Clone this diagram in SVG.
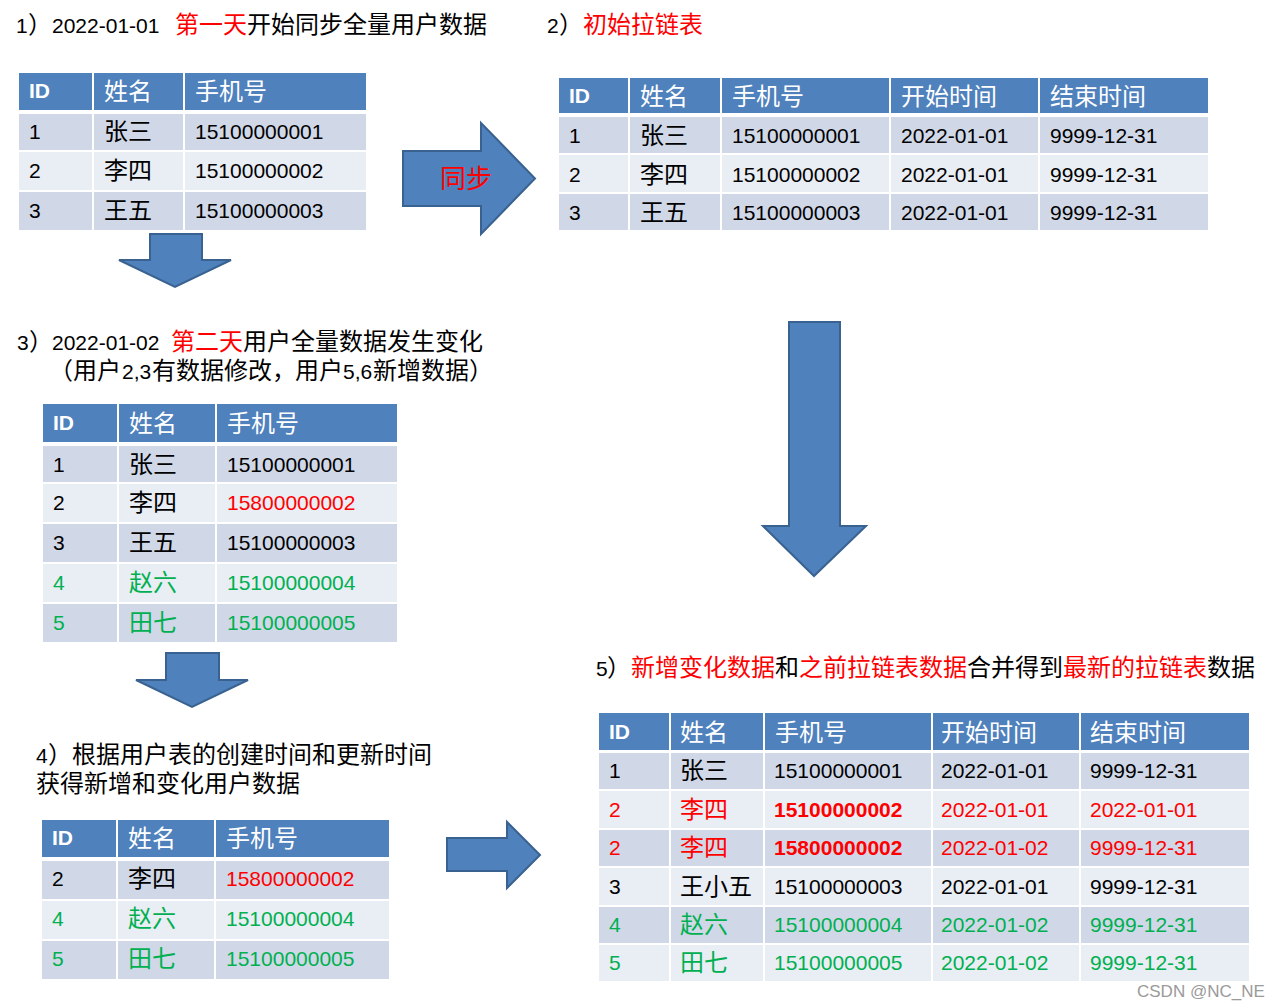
<svg xmlns="http://www.w3.org/2000/svg" width="1282" height="1008" viewBox="0 0 1282 1008">
<style>
.hd{fill:#4F81BD}
.ra{fill:#D0D8E8}
.rb{fill:#E9EDF4}
.vl{fill:#fff}
.t{font-family:"Liberation Sans","Noto Sans CJK SC",sans-serif;font-size:21px;fill:#000}
.c{font-family:"Noto Sans CJK SC",sans-serif;font-size:24px;fill:#000}
.th{font-family:"Liberation Sans","Noto Sans CJK SC",sans-serif;font-size:21px;font-weight:bold;fill:#fff}
.thc{font-family:"Noto Sans CJK SC",sans-serif;font-size:24px;fill:#fff}
.red{fill:#FF0000}
.grn{fill:#00B050}
.b{font-weight:bold}
.arr{fill:#4F81BD;stroke:#3A6290;stroke-width:2;stroke-linejoin:miter}
.wm{font-family:"Liberation Sans",sans-serif;font-size:17px;fill:#9a9a9a}
</style>
<rect width="1282" height="1008" fill="#fff"/>

<!-- Titles -->
<g id="title1">
<text class="t" x="16" y="33">1</text><text class="c" x="28" y="33">）</text><text class="t" x="52" y="33">2022-01-01</text>
<text class="c" x="175" y="33"><tspan class="red">第一天</tspan>开始同步全量用户数据</text>
</g>
<g id="title2">
<text class="t" x="547" y="33">2</text><text class="c" x="559" y="33">）<tspan class="red">初始拉链表</tspan></text>
</g>
<g id="title3">
<text class="t" x="17" y="350">3</text><text class="c" x="29" y="350">）</text><text class="t" x="52" y="350">2022-01-02</text>
<text class="c" x="171" y="350"><tspan class="red">第二天</tspan>用户全量数据发生变化</text>
<text class="c" x="49" y="379">（用户</text><text class="t" x="122" y="379">2,3</text><text class="c" x="152" y="379">有数据修改，</text>
<text class="c" x="295" y="379">用户</text><text class="t" x="343" y="379">5,6</text><text class="c" x="373" y="379">新增数据）</text>
</g>
<g id="title4">
<text class="t" x="36" y="763">4</text><text class="c" x="48" y="763">）根据用户表的创建时间和更新时间</text>
<text class="c" x="36" y="792">获得新增和变化用户数据</text>
</g>
<g id="title5">
<text class="t" x="596" y="676">5</text><text class="c" x="607" y="676">）<tspan class="red">新增变化数据</tspan>和<tspan class="red">之前拉链表数据</tspan>合并得到<tspan class="red">最新的拉链表</tspan>数据</text>
</g>

<!-- Table 1 -->
<g id="table1">
<rect class="hd" x="19" y="73" width="347" height="37"/>
<rect class="ra" x="19" y="114" width="347" height="36"/>
<rect class="rb" x="19" y="152" width="347" height="38"/>
<rect class="ra" x="19" y="192" width="347" height="38"/>
<rect class="vl" x="92" y="73" width="2" height="157"/>
<rect class="vl" x="183" y="73" width="2" height="157"/>
<text class="th" x="29" y="98">ID</text><text class="thc" x="104" y="100">姓名</text><text class="thc" x="195" y="100">手机号</text>
<text class="t" x="29" y="139">1</text><text class="c" x="104" y="140">张三</text><text class="t" x="195" y="139">15100000001</text>
<text class="t" x="29" y="178">2</text><text class="c" x="104" y="179">李四</text><text class="t" x="195" y="178">15100000002</text>
<text class="t" x="29" y="218">3</text><text class="c" x="104" y="219">王五</text><text class="t" x="195" y="218">15100000003</text>
</g>

<!-- Table 2 -->
<g id="table2">
<rect class="hd" x="559" y="78" width="649" height="35"/>
<rect class="ra" x="559" y="117" width="649" height="36"/>
<rect class="rb" x="559" y="155" width="649" height="37"/>
<rect class="ra" x="559" y="194" width="649" height="36"/>
<rect class="vl" x="628" y="78" width="2" height="152"/>
<rect class="vl" x="720" y="78" width="2" height="152"/>
<rect class="vl" x="889" y="78" width="2" height="152"/>
<rect class="vl" x="1038" y="78" width="2" height="152"/>
<text class="th" x="569" y="103">ID</text><text class="thc" x="640" y="105">姓名</text><text class="thc" x="732" y="105">手机号</text><text class="thc" x="901" y="105">开始时间</text><text class="thc" x="1050" y="105">结束时间</text>
<text class="t" x="569" y="143">1</text><text class="c" x="640" y="144">张三</text><text class="t" x="732" y="143">15100000001</text><text class="t" x="901" y="143">2022-01-01</text><text class="t" x="1050" y="143">9999-12-31</text>
<text class="t" x="569" y="182">2</text><text class="c" x="640" y="183">李四</text><text class="t" x="732" y="182">15100000002</text><text class="t" x="901" y="182">2022-01-01</text><text class="t" x="1050" y="182">9999-12-31</text>
<text class="t" x="569" y="220">3</text><text class="c" x="640" y="221">王五</text><text class="t" x="732" y="220">15100000003</text><text class="t" x="901" y="220">2022-01-01</text><text class="t" x="1050" y="220">9999-12-31</text>
</g>

<!-- Table 3 -->
<g id="table3">
<rect class="hd" x="43" y="404" width="354" height="38"/>
<rect class="ra" x="43" y="446" width="354" height="36"/>
<rect class="rb" x="43" y="484" width="354" height="38"/>
<rect class="ra" x="43" y="524" width="354" height="38"/>
<rect class="rb" x="43" y="564" width="354" height="38"/>
<rect class="ra" x="43" y="604" width="354" height="38"/>
<rect class="vl" x="117" y="404" width="2" height="238"/>
<rect class="vl" x="215" y="404" width="2" height="238"/>
<text class="th" x="53" y="430">ID</text><text class="thc" x="129" y="432">姓名</text><text class="thc" x="227" y="432">手机号</text>
<text class="t" x="53" y="472">1</text><text class="c" x="129" y="473">张三</text><text class="t" x="227" y="472">15100000001</text>
<text class="t" x="53" y="510">2</text><text class="c" x="129" y="511">李四</text><text class="t red" x="227" y="510">15800000002</text>
<text class="t" x="53" y="550">3</text><text class="c" x="129" y="551">王五</text><text class="t" x="227" y="550">15100000003</text>
<text class="t grn" x="53" y="590">4</text><text class="c grn" x="129" y="591">赵六</text><text class="t grn" x="227" y="590">15100000004</text>
<text class="t grn" x="53" y="630">5</text><text class="c grn" x="129" y="631">田七</text><text class="t grn" x="227" y="630">15100000005</text>
</g>

<!-- Table 4 -->
<g id="table4">
<rect class="hd" x="42" y="820" width="347" height="37"/>
<rect class="ra" x="42" y="861" width="347" height="38"/>
<rect class="rb" x="42" y="901" width="347" height="38"/>
<rect class="ra" x="42" y="941" width="347" height="38"/>
<rect class="vl" x="116" y="820" width="2" height="159"/>
<rect class="vl" x="214" y="820" width="2" height="159"/>
<text class="th" x="52" y="845">ID</text><text class="thc" x="128" y="847">姓名</text><text class="thc" x="226" y="847">手机号</text>
<text class="t" x="52" y="886">2</text><text class="c" x="128" y="887">李四</text><text class="t red" x="226" y="886">15800000002</text>
<text class="t grn" x="52" y="926">4</text><text class="c grn" x="128" y="927">赵六</text><text class="t grn" x="226" y="926">15100000004</text>
<text class="t grn" x="52" y="966">5</text><text class="c grn" x="128" y="967">田七</text><text class="t grn" x="226" y="966">15100000005</text>
</g>

<!-- Table 5 -->
<g id="table5">
<rect class="hd" x="599" y="713" width="650" height="37"/>
<rect class="ra" x="599" y="753" width="650" height="36"/>
<rect class="rb" x="599" y="791" width="650" height="37"/>
<rect class="ra" x="599" y="830" width="650" height="36"/>
<rect class="rb" x="599" y="868" width="650" height="37"/>
<rect class="ra" x="599" y="907" width="650" height="36"/>
<rect class="rb" x="599" y="945" width="650" height="36"/>
<rect class="vl" x="669" y="713" width="2" height="268"/>
<rect class="vl" x="763" y="713" width="2" height="268"/>
<rect class="vl" x="931" y="713" width="2" height="268"/>
<rect class="vl" x="1079" y="713" width="2" height="268"/>
<text class="th" x="609" y="739">ID</text><text class="thc" x="680" y="741">姓名</text><text class="thc" x="775" y="741">手机号</text><text class="thc" x="941" y="741">开始时间</text><text class="thc" x="1090" y="741">结束时间</text>
<text class="t" x="609" y="778">1</text><text class="c" x="680" y="779">张三</text><text class="t" x="774" y="778">15100000001</text><text class="t" x="941" y="778">2022-01-01</text><text class="t" x="1090" y="778">9999-12-31</text>
<text class="t red" x="609" y="817">2</text><text class="c red" x="680" y="818">李四</text><text class="t red b" x="774" y="817">15100000002</text><text class="t red" x="941" y="817">2022-01-01</text><text class="t red" x="1090" y="817">2022-01-01</text>
<text class="t red" x="609" y="855">2</text><text class="c red" x="680" y="856">李四</text><text class="t red b" x="774" y="855">15800000002</text><text class="t red" x="941" y="855">2022-01-02</text><text class="t red" x="1090" y="855">9999-12-31</text>
<text class="t" x="609" y="894">3</text><text class="c" x="680" y="895">王小五</text><text class="t" x="774" y="894">15100000003</text><text class="t" x="941" y="894">2022-01-01</text><text class="t" x="1090" y="894">9999-12-31</text>
<text class="t grn" x="609" y="932">4</text><text class="c grn" x="680" y="933">赵六</text><text class="t grn" x="774" y="932">15100000004</text><text class="t grn" x="941" y="932">2022-01-02</text><text class="t grn" x="1090" y="932">9999-12-31</text>
<text class="t grn" x="609" y="970">5</text><text class="c grn" x="680" y="971">田七</text><text class="t grn" x="774" y="970">15100000005</text><text class="t grn" x="941" y="970">2022-01-02</text><text class="t grn" x="1090" y="970">9999-12-31</text>
</g>

<!-- Connectors -->
<g id="connectors">
<polygon class="arr" points="150,234 202,234 202,260 231,260 175,287 119,260 150,260"/>
<polygon class="arr" points="403,151 481,151 481,123 535,178.5 481,234 481,206 403,206"/>
<text x="440" y="188" font-family="'Noto Sans CJK SC',sans-serif" font-size="26" fill="#FF0000">同步</text>
<polygon class="arr" points="789,322 840,322 840,526 866,526 814,576 763,526 789,526"/>
<polygon class="arr" points="166,653 219,653 219,680 248,680 192,707 136,680 166,680"/>
<polygon class="arr" points="447,838 507,838 507,822 540,855 507,888 507,871 447,871"/>
</g>

<text class="wm" x="1137" y="997">CSDN @NC_NE</text>
</svg>
